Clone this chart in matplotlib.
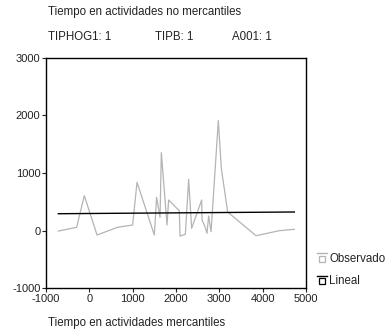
import matplotlib
matplotlib.use("Agg")
import matplotlib.pyplot as plt
from matplotlib.lines import Line2D

plt.rcParams['font.family'] = ['Liberation Sans', 'DejaVu Sans']
plt.rcParams['axes.unicode_minus'] = False

# observed values (x: tiempo mercantil, y: tiempo no mercantil)
obs_x = [-715, -293, -115, 178, 653, 999, 1101, 1500, 1553, 1632, 1662, 1793, 1830,
         2077, 2093, 2216, 2292, 2361, 2592, 2601, 2670, 2716, 2753, 2809, 2977,
         3046, 3192, 3847, 4385, 4731]
obs_y = [-10, 56, 605, -78, 56, 96, 838, -78, 577, 230, 1353, 96, 530,
         344, -96, -66, 890, 38, 530, 183, 66, -49, 252, -21, 1910,
         1082, 322, -90, -3, 21]

# linear fit endpoints
lin_x = [-715, 4731]
lin_y = [292, 322]

x_ticks = [-1000, 0, 1000, 2000, 3000, 4000, 5000]
y_ticks = [-1000, 0, 1000, 2000, 3000]

fig = plt.figure(figsize=(3.92, 3.33), dpi=100)
ax = fig.add_axes([0.1173, 0.135, 0.6633, 0.691])

ax.plot(obs_x, obs_y, color='#b4b4b4', lw=0.9)
ax.plot(lin_x, lin_y, color='black', lw=1.0)

ax.set_xlim(-1000, 5000)
ax.set_ylim(-1000, 3000)
ax.set_xticks(x_ticks)
ax.set_yticks(y_ticks)
ax.tick_params(labelsize=8, length=3, width=0.8, direction='out', pad=1,
               colors='#222222')
for s in ax.spines.values():
    s.set_linewidth(1.0)

fs = 8.3
tc = '#222222'
fig.text(48 / 392, 1 - 12 / 333, 'Tiempo en actividades no mercantiles', fontsize=fs, va='center', color=tc)
fig.text(48 / 392, 1 - 37 / 333, 'TIPHOG1: 1', fontsize=fs, va='center', color=tc)
fig.text(155 / 392, 1 - 37 / 333, 'TIPB: 1', fontsize=fs, va='center', color=tc)
fig.text(232 / 392, 1 - 37 / 333, 'A001: 1', fontsize=fs, va='center', color=tc)
fig.text(48 / 392, 1 - 323 / 333, 'Tiempo en actividades mercantiles', fontsize=fs, va='center', color=tc)

# legend (SPSS style)
legend_items = [('Observado', '#b4b4b4', 253, 259), ('Lineal', 'black', 276, 281)]
for label, col, ly, sy in legend_items:
    fig.add_artist(Line2D([317 / 392, 327 / 392], [1 - ly / 333, 1 - ly / 333],
                          color=col, lw=1.0, transform=fig.transFigure))
    fig.add_artist(Line2D([322 / 392], [1 - sy / 333], marker='s', markersize=5,
                          markerfacecolor='white', markeredgecolor=col, mew=0.9,
                          transform=fig.transFigure))
    fig.text(329 / 392, 1 - sy / 333, label, fontsize=fs, va='center', color=tc)

fig.savefig('out.png', dpi=100)
